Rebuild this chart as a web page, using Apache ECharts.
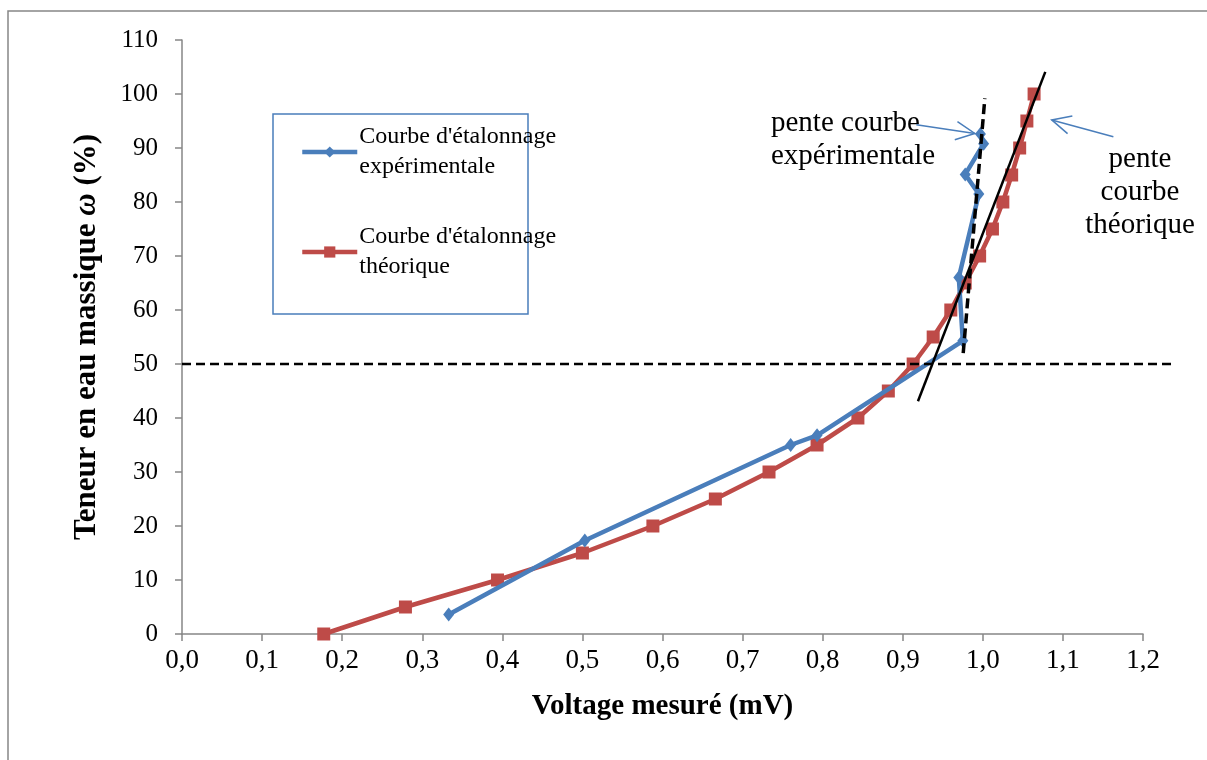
<!DOCTYPE html>
<html>
<head>
<meta charset="utf-8">
<script src="https://cdn.jsdelivr.net/npm/echarts@6/dist/echarts.min.js"></script>
<style>
  html, body { margin: 0; padding: 0; background: #fff; }
  #chart { width: 1207px; height: 760px; }
</style>
</head>
<body>
<div id="chart"></div>
<script>
// courbe experimentale [voltage mV, teneur %]
var expVoltage = [0.333, 0.503, 0.760, 0.793, 0.975, 0.970, 0.995, 0.978, 1.001, 0.997];
var expTeneur  = [3.6, 17.3, 35.0, 36.8, 54.3, 66.0, 81.5, 85.1, 90.8, 92.6];

// courbe theorique
var theoVoltage = [0.177, 0.279, 0.394, 0.500, 0.588, 0.666, 0.733, 0.793, 0.844, 0.882,
                   0.913, 0.938, 0.960, 0.978, 0.996, 1.012, 1.025, 1.036, 1.046, 1.055, 1.064];
var theoTeneur  = [0, 5, 10, 15, 20, 25, 30, 35, 40, 45, 50, 55, 60, 65, 70, 75, 80, 85, 90, 95, 100];

// droites de pente et seuil
var penteExp  = [[0.9755, 52.0], [1.0025, 99.2]];
var penteTheo = [[0.919, 43.1], [1.078, 104.1]];
var seuil     = [[0, 50], [1.236, 50]];

var xTicks = { min: 0, max: 1.2, step: 0.1 };
var yTicks = { min: 0, max: 110, step: 10 };

var nomExp  = "Courbe d'étalonnage expérimentale";
var nomTheo = "Courbe d'étalonnage théorique";

function pairs(xs, ys) {
    var out = [];
    for (var i = 0; i < xs.length; i++) out.push([xs[i], ys[i]]);
    return out;
}

var serif = '"Liberation Serif", "DejaVu Serif", serif';
var axisGray = '#868686';
var blue = '#4a7ebb';
var red = '#be4b48';

var myChart = echarts.init(document.getElementById('chart'));

var option = {
    animation: false,
    textStyle: { fontFamily: serif, color: '#000' },
    grid: { left: 182, right: 64, top: 40, bottom: 126 },
    legend: {
        data: [nomExp, nomTheo],
        orient: 'vertical',
        left: 300,
        top: 107,
        padding: 0,
        itemGap: 10,
        itemWidth: 55,
        itemHeight: 14,
        lineStyle: { width: 4.5 },
        formatter: function (name) {
            return name === nomExp ? "Courbe d'étalonnage\nexpérimentale" : "Courbe d'étalonnage\nthéorique";
        },
        textStyle: { fontFamily: serif, fontSize: 24, lineHeight: 30, color: '#000', padding: [30, 0, 0, -3] }
    },
    xAxis: {
        type: 'value',
        min: xTicks.min, max: xTicks.max, interval: xTicks.step,
        name: 'Voltage mesuré (mV)',
        nameLocation: 'middle',
        nameGap: 58,
        nameTextStyle: { fontFamily: serif, fontSize: 29, fontWeight: 'bold', color: '#000' },
        axisLine: { lineStyle: { color: axisGray, width: 1.5 } },
        axisTick: { show: true, length: 7, lineStyle: { color: axisGray, width: 1.5 } },
        splitLine: { show: false },
        axisLabel: {
            margin: 13, fontSize: 27, color: '#000', fontFamily: serif,
            formatter: function (v) { return v.toFixed(1).replace('.', ','); }
        }
    },
    yAxis: {
        type: 'value',
        min: yTicks.min, max: yTicks.max, interval: yTicks.step,
        name: '{b|Teneur en eau massique }{i|ω}{b| (%)}',
        nameLocation: 'middle',
        nameGap: 80,
        nameRotate: 90,
        nameTextStyle: {
            rich: {
                b: { fontFamily: serif, fontSize: 31, fontWeight: 'bold', color: '#000' },
                i: { fontFamily: serif, fontSize: 31, fontWeight: 'bold', fontStyle: 'italic', color: '#000' }
            }
        },
        axisLine: { show: true, lineStyle: { color: axisGray, width: 1.5 } },
        axisTick: { show: true, length: 7, lineStyle: { color: axisGray, width: 1.5 } },
        splitLine: { show: false },
        axisLabel: { margin: 24, fontSize: 25, color: '#000', fontFamily: serif }
    },
    series: [
        {
            name: nomExp,
            type: 'line',
            data: pairs(expVoltage, expTeneur),
            symbol: 'diamond',
            symbolSize: [11, 14],
            color: blue,
            lineStyle: { color: blue, width: 4.5 },
            itemStyle: { color: blue },
            z: 3
        },
        {
            name: nomTheo,
            type: 'line',
            data: pairs(theoVoltage, theoTeneur),
            symbol: 'rect',
            symbolSize: 13,
            color: red,
            lineStyle: { color: red, width: 4.5 },
            itemStyle: { color: red },
            z: 2
        },
        {
            name: 'pente exp',
            type: 'line',
            data: penteExp,
            symbol: 'none',
            lineStyle: { color: '#000', width: 3.5, type: [10, 5] },
            z: 5
        },
        {
            name: 'pente theo',
            type: 'line',
            data: penteTheo,
            symbol: 'none',
            clip: false,
            lineStyle: { color: '#000', width: 2.5 },
            z: 5
        }
    ]
};

myChart.setOption(option);

// fleches d'annotation, placees en coordonnees de donnees
function arrow(tail, tip) {
    var a = myChart.convertToPixel('grid', tail);
    var b = myChart.convertToPixel('grid', tip);
    var ang = Math.atan2(b[1] - a[1], b[0] - a[0]);
    var len = 21, spread = 0.45;
    var w1 = [b[0] - len * Math.cos(ang - spread), b[1] - len * Math.sin(ang - spread)];
    var w2 = [b[0] - len * Math.cos(ang + spread), b[1] - len * Math.sin(ang + spread)];
    return [
        { type: 'polyline', shape: { points: [a, b] }, style: { stroke: blue, lineWidth: 1.5, fill: null }, z: 20 },
        { type: 'polyline', shape: { points: [w1, b, w2] }, style: { stroke: blue, lineWidth: 1.5, fill: null }, z: 20 }
    ];
}

// ligne de seuil a 50 %, qui depasse l'axe a droite
var s0 = myChart.convertToPixel('grid', seuil[0]);
var s1 = myChart.convertToPixel('grid', seuil[1]);

var graphics = [
    { type: 'rect', shape: { x: 8, y: 11, width: 1300, height: 900 }, style: { fill: null, stroke: axisGray, lineWidth: 1.5 }, silent: true, z: 0 },
    { type: 'rect', shape: { x: 273, y: 114, width: 255, height: 200 }, style: { fill: null, stroke: blue, lineWidth: 1.5 }, z: 1 },
    { type: 'line', shape: { x1: s0[0], y1: s0[1], x2: s1[0], y2: s1[1] }, style: { stroke: '#000', lineWidth: 2.5, lineDash: [9, 5] }, z: 30 },
    { type: 'text', x: 771, y: 107, style: { text: 'pente courbe\nexpérimentale', font: '29px ' + serif, lineHeight: 33, fill: '#000', textAlign: 'left', textVerticalAlign: 'top' }, z: 20 },
    { type: 'text', x: 1140, y: 143, style: { text: 'pente\ncourbe\nthéorique', font: '29px ' + serif, lineHeight: 33, fill: '#000', textAlign: 'center', textVerticalAlign: 'top' }, z: 20 }
];
graphics = graphics.concat(arrow([0.917, 94.3], [0.990, 92.7]));
graphics = graphics.concat(arrow([1.163, 92.1], [1.086, 95.2]));

myChart.setOption({ graphic: graphics });
</script>
</body>
</html>
